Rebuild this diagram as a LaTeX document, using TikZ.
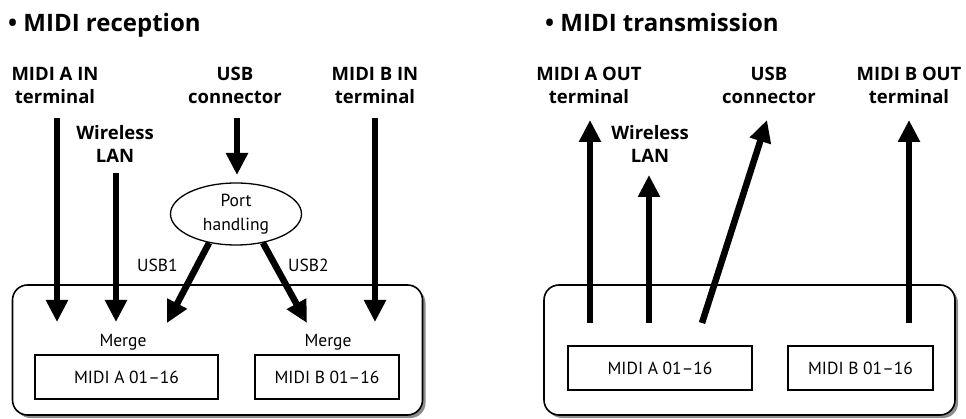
\documentclass[tikz,border=0pt]{standalone}
\usepackage{fontspec}
\setmainfont{PT Sans}
\newfontfamily\boldfam{Open Sans}
\usetikzlibrary{arrows.meta,shapes.geometric,shadows}
\begin{document}
\begin{tikzpicture}[x=1pt,y=-1pt,
  title/.style={font=\boldfam\fontsize{24}{28}\selectfont\bfseries, anchor=base west, inner sep=0pt},
  lbl/.style={font=\boldfam\fontsize{18.5}{23}\selectfont\bfseries, align=center, inner sep=0pt, anchor=north},
  txt/.style={font=\fontsize{17.5}{24}\selectfont, inner sep=0pt},
  chbox/.style={draw, line width=1.3pt, minimum height=44pt, inner sep=0pt, font=\fontsize{17.5}{24}\selectfont},
  panel/.style={draw, line width=1.6pt, rounded corners=15pt, fill=white, inner sep=0pt,
    drop shadow={shadow xshift=3pt, shadow yshift=-3pt, fill=black!45, opacity=1}},
  bigarrow/.style={line width=6.5pt, -{Triangle[width=21pt,length=22pt]}}]
\useasboundingbox (0,0) rectangle (966,419);

% ---------- MIDI reception ----------
\node[title] (rtitle) at (8,32) {• MIDI reception};
\node[panel, minimum width=410pt, minimum height=130pt] (rpanel) at (217.5,350) {};
\node[lbl] (ainlbl) at (55,67) {MIDI A IN\\terminal};
\node[lbl] (rwlbl) at (115,125) {Wireless\\LAN};
\node[lbl] (rusblbl) at (235,67) {USB\\connector};
\node[lbl] (binlbl) at (375,67) {MIDI B IN\\terminal};
\node[draw, ellipse, line width=1.3pt, minimum width=131pt, minimum height=62pt, inner sep=0pt,
  align=center, font=\fontsize{17.5}{24}\selectfont] (port) at (236,214) {Port\\handling};
\node[txt, anchor=base west] (usb1) at (137,272) {USB1};
\node[txt, anchor=base west] (usb2) at (288,272) {USB2};
\node[txt, anchor=base] (mergea) at (123,347) {Merge};
\node[txt, anchor=base] (mergeb) at (328,347) {Merge};
\node[chbox, minimum width=183pt] (rboxa) at (126.5,377) {MIDI A 01–16};
\node[chbox, minimum width=144pt] (rboxb) at (327,377) {MIDI B 01–16};

\coordinate (ainS) at (57,118);  \coordinate (ainE) at (57,322);
\coordinate (rwS) at (116,173);  \coordinate (rwE) at (116,322);
\coordinate (rusbS) at (237,118); \coordinate (rusbE) at (237,175);
\coordinate (binS) at (375,118); \coordinate (binE) at (375,322);
\coordinate (usb1E) at (167,323);
\coordinate (usb2E) at (307,323);

\draw[bigarrow] (ainS) -- (ainE);
\draw[bigarrow] (rwS) -- (rwE);
\draw[bigarrow] (rusbS) -- (rusbE);
\draw[bigarrow] (binS) -- (binE);
\draw[bigarrow] (port.227) -- (usb1E);
\draw[bigarrow] (port.313) -- (usb2E);

% ---------- MIDI transmission ----------
\node[title] (ttitle) at (545,32) {• MIDI transmission};
\node[panel, minimum width=411pt, minimum height=130pt] (tpanel) at (749.5,350) {};
\node[lbl] (aoutlbl) at (589,67) {MIDI A OUT\\terminal};
\node[lbl] (twlbl) at (650,125) {Wireless\\LAN};
\node[lbl] (tusblbl) at (769,67) {USB\\connector};
\node[lbl] (boutlbl) at (909,67) {MIDI B OUT\\terminal};
\node[chbox, minimum width=184pt] (tboxa) at (660,368) {MIDI A 01–16};
\node[chbox, minimum width=145pt] (tboxb) at (860.5,368) {MIDI B 01–16};

\coordinate (aoutS) at (590,323); \coordinate (aoutE) at (590,120);
\coordinate (twS) at (649,323);   \coordinate (twE) at (649,175);
\coordinate (tusbS) at (702,323); \coordinate (tusbE) at (767,120);
\coordinate (boutS) at (909,323); \coordinate (boutE) at (909,120);

\draw[bigarrow] (aoutS) -- (aoutE);
\draw[bigarrow] (twS) -- (twE);
\draw[bigarrow] (tusbS) -- (tusbE);
\draw[bigarrow] (boutS) -- (boutE);
\end{tikzpicture}
\end{document}
